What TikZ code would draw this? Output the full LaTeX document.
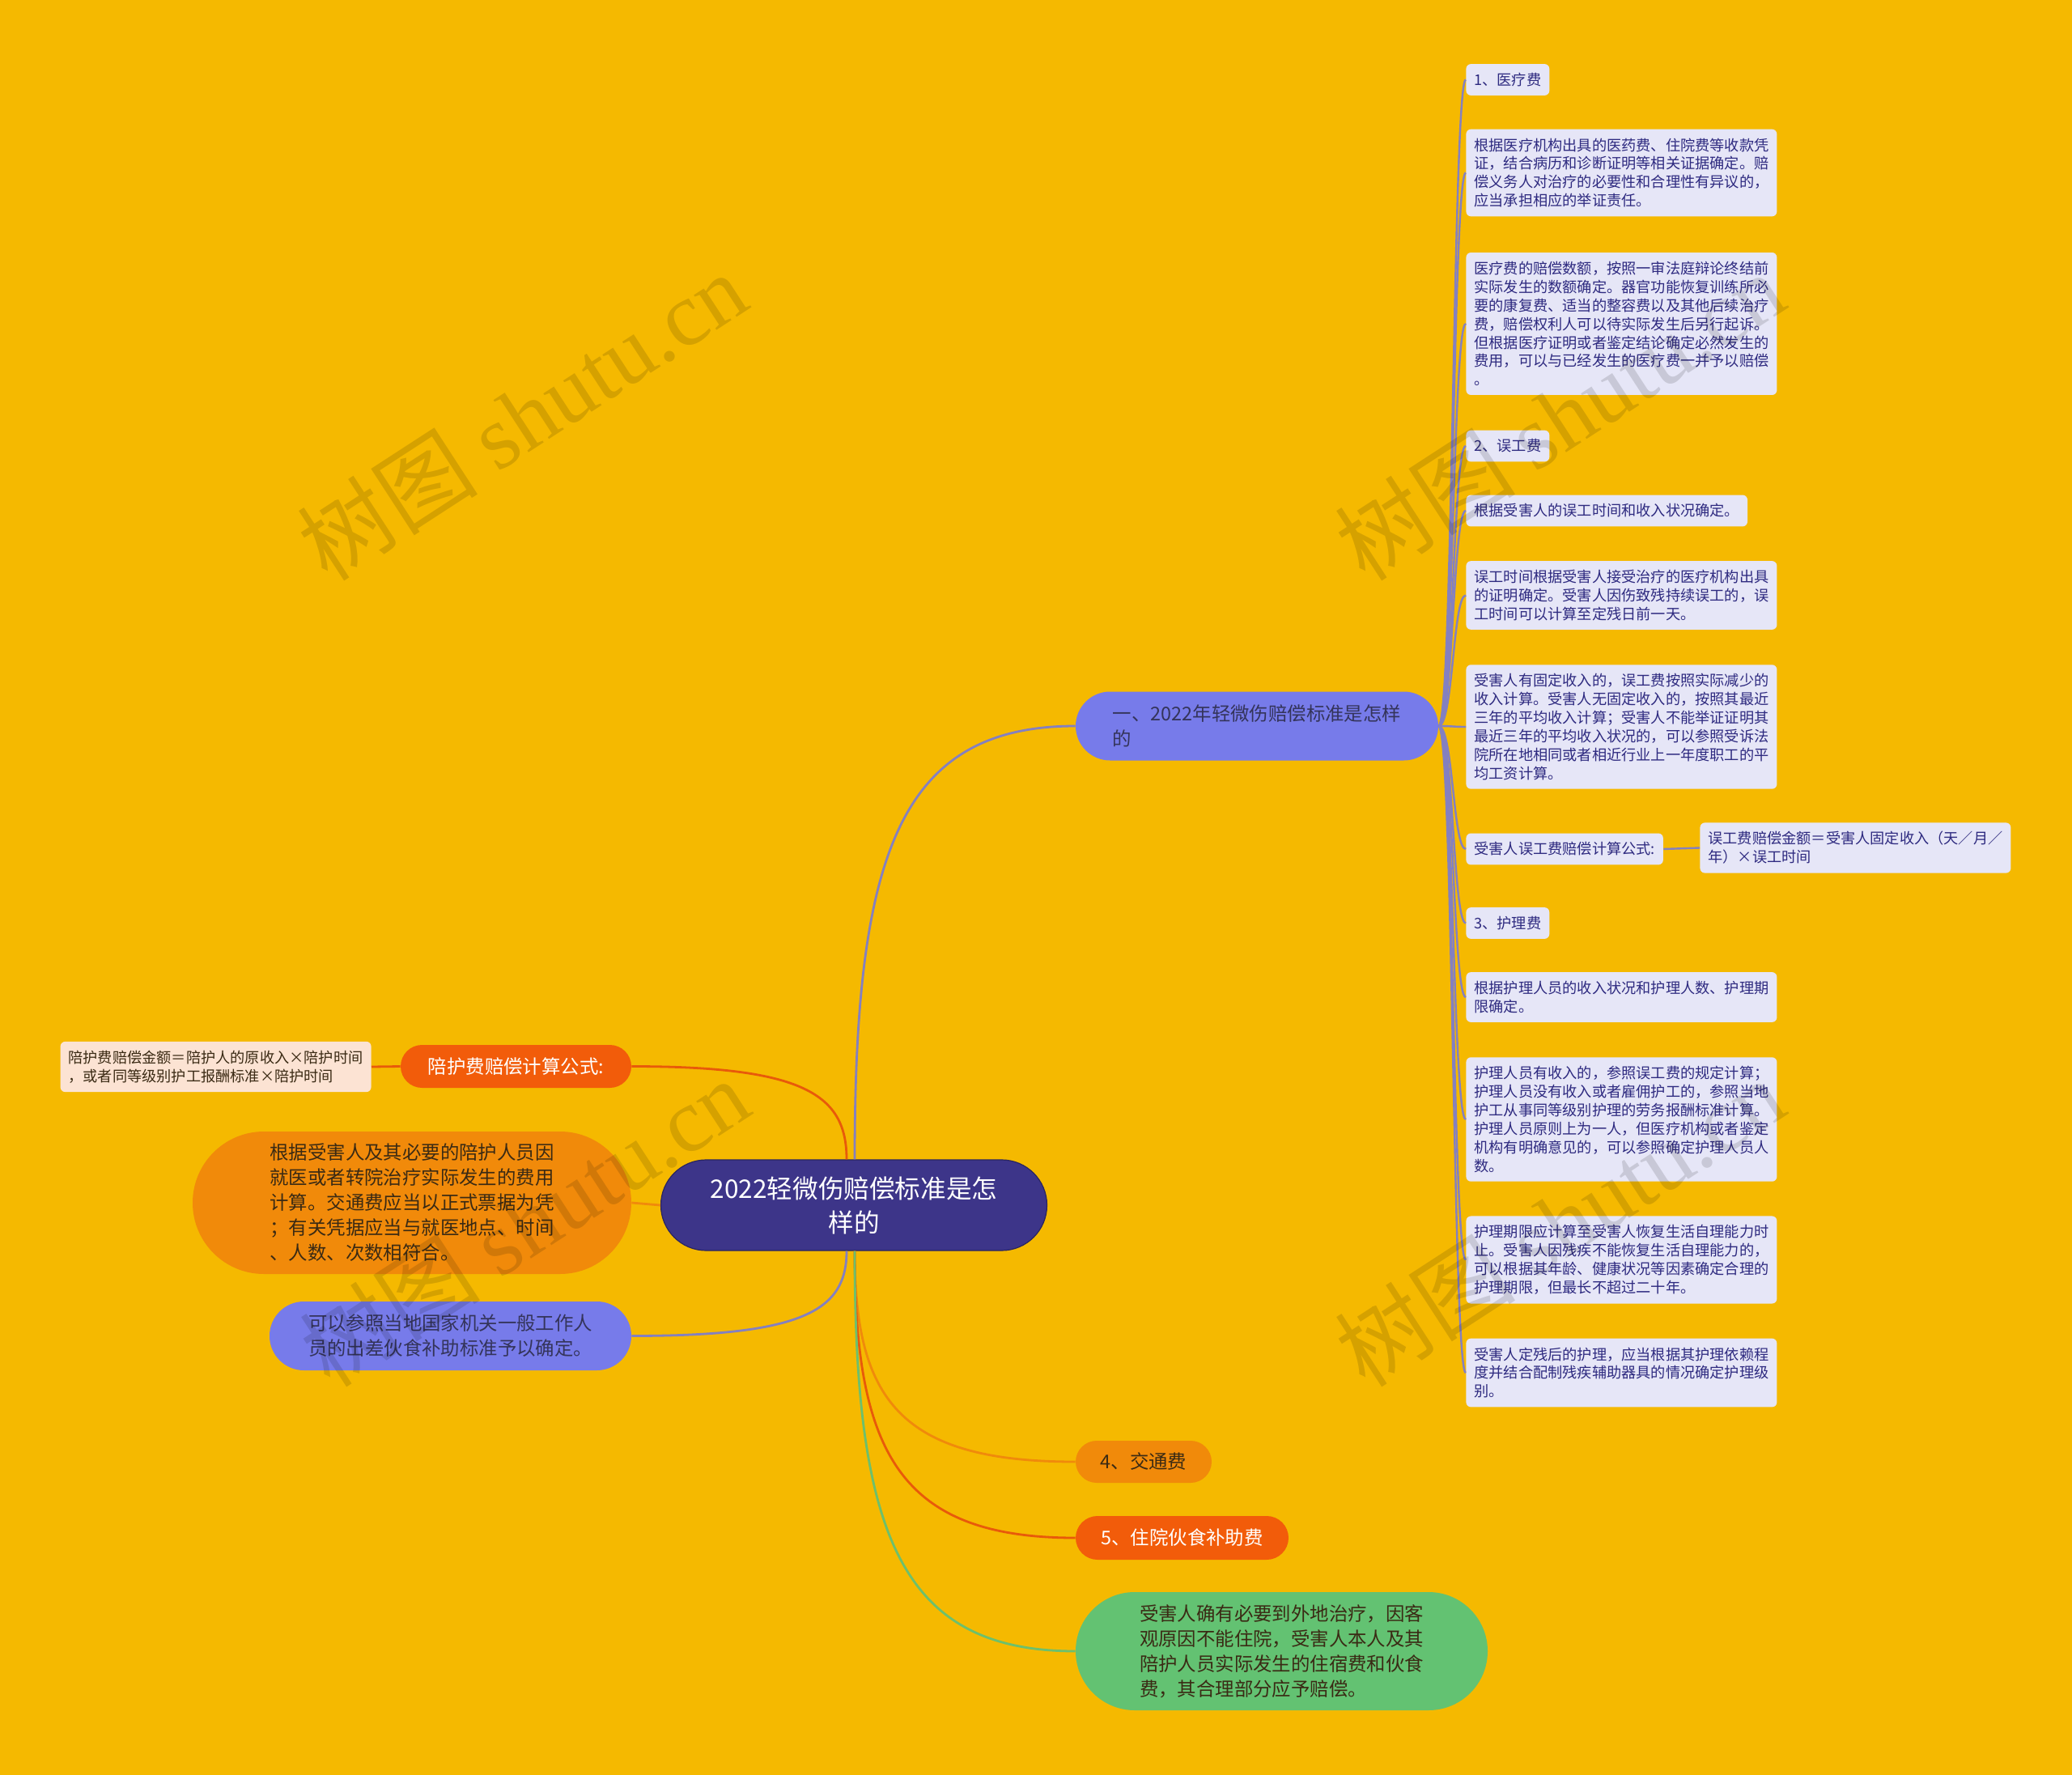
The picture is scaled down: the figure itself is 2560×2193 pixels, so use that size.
\documentclass[tikz,border=0pt]{standalone}
\usepackage{fontspec}
\setmainfont{Noto Sans CJK SC}
\newfontfamily\wmlatin{Liberation Serif}
\usetikzlibrary{calc}
\definecolor{bgc}{HTML}{F5B900}
\definecolor{cfill}{HTML}{3D3589}
\definecolor{cborder}{HTML}{2A2560}
\definecolor{peri}{HTML}{777BEA}
\definecolor{leafbg}{HTML}{E6E6F7}
\definecolor{leaftxt}{HTML}{2E2A80}
\definecolor{btxt}{HTML}{34345A}
\definecolor{orng}{HTML}{F18A0A}
\definecolor{ored}{HTML}{F25C0A}
\definecolor{grn}{HTML}{63C272}
\definecolor{peach}{HTML}{FCE3D3}
\definecolor{darktxt}{HTML}{3A2A14}
\definecolor{plinkc}{HTML}{8480C0}
\definecolor{rlinkc}{HTML}{E85A0A}
\definecolor{olinkc}{HTML}{F08A0B}
\definecolor{glinkc}{HTML}{6DC06C}
\tikzset{
  pill/.style={rectangle, inner sep=0pt, align=left, font=\fontsize{11.7}{15.5}\selectfont},
  leaf/.style={rectangle, rounded corners=3pt, fill=leafbg, text=leaftxt,
    font=\fontsize{9.1}{11.45}\selectfont, align=left, inner xsep=5pt, inner ysep=5.5pt, anchor=west},
  plink/.style={draw=plinkc, line width=1.4pt},
  rlink/.style={draw=rlinkc, line width=1.4pt},
  olink/.style={draw=olinkc, line width=1.4pt},
  glink/.style={draw=glinkc, line width=1.4pt},
  llink/.style={draw=plinkc, line width=1.2pt},
  wm/.style={text=black, text opacity=0.13, font=\fontsize{56}{60}\selectfont, inner sep=0pt},
}
\newcommand\mlink[3]{\draw[#1] (#2) .. controls ($(#2)!0.7!(#2|-#3)$) and ($(#3)!0.8!(#2|-#3)$) .. (#3);}
\newcommand\llinkto[1]{\draw[llink] (b1.east) .. controls +(18,0) and +(-16,0) .. (#1);}
\begin{document}
\begin{tikzpicture}[x=0.5pt,y=-0.5pt]
\fill[bgc] (0,0) rectangle (2560,2193);
\useasboundingbox (0,0) rectangle (2560,2193);

% central
\node[rectangle, fill=cfill, draw=cborder, line width=0.6pt, text=white, inner sep=0pt,
  font=\fontsize{15.8}{21}\selectfont, align=center, minimum width=238.5pt, minimum height=56pt,
  rounded corners=28pt] (c) at (1055,1489) {2022轻微伤赔偿标准是怎\\样的};

% main branches
\node[pill, fill=peri, text=btxt, minimum width=224pt, minimum height=42.5pt, rounded corners=21.25pt]
  (b1) at (1553,897) {一、2022年轻微伤赔偿标准是怎样\\的};
\node[pill, fill=ored, text=white, minimum width=142.5pt, minimum height=26.5pt, rounded corners=13.25pt]
  (pf) at (637.5,1317.5) {陪护费赔偿计算公式:};
\node[rectangle, rounded corners=3pt, fill=peach, text=darktxt, font=\fontsize{9.1}{11.45}\selectfont,
  align=left, inner xsep=5pt, inner ysep=5.5pt, anchor=east] (pfc) at (459,1318)
  {陪护费赔偿金额＝陪护人的原收入×陪护时间\\，或者同等级别护工报酬标准×陪护时间};
\node[pill, fill=orng, text=darktxt, minimum width=271pt, minimum height=88pt, rounded corners=44pt]
  (jt) at (509,1486) {根据受害人及其必要的陪护人员因\\就医或者转院治疗实际发生的费用\\计算。交通费应当以正式票据为凭\\；有关凭据应当与就医地点、时间\\、人数、次数相符合。};
\node[pill, fill=peri, text=btxt, minimum width=223.5pt, minimum height=42.5pt, rounded corners=21.25pt]
  (hs) at (556.5,1650.5) {可以参照当地国家机关一般工作人\\员的出差伙食补助标准予以确定。};
\node[pill, fill=orng, text=darktxt, minimum width=84pt, minimum height=26pt, rounded corners=13pt]
  (n4) at (1413,1806) {4、交通费};
\node[pill, fill=ored, text=white, minimum width=131.5pt, minimum height=27pt, rounded corners=13.5pt]
  (n5) at (1460.5,1900) {5、住院伙食补助费};
\node[pill, fill=grn, text=darktxt, minimum width=254.5pt, minimum height=73pt, rounded corners=36.5pt]
  (gr) at (1583.5,2040) {受害人确有必要到外地治疗，因客\\观原因不能住院，受害人本人及其\\陪护人员实际发生的住宿费和伙食\\费，其合理部分应予赔偿。};

% leaves
\node[leaf] (l1) at (1811,98.5) {1、医疗费};
\node[leaf] (l2) at (1811,213.5) {根据医疗机构出具的医药费、住院费等收款凭\\证，结合病历和诊断证明等相关证据确定。赔\\偿义务人对治疗的必要性和合理性有异议的，\\应当承担相应的举证责任。};
\node[leaf] (l3) at (1811,400) {医疗费的赔偿数额，按照一审法庭辩论终结前\\实际发生的数额确定。器官功能恢复训练所必\\要的康复费、适当的整容费以及其他后续治疗\\费，赔偿权利人可以待实际发生后另行起诉。\\但根据医疗证明或者鉴定结论确定必然发生的\\费用，可以与已经发生的医疗费一并予以赔偿\\。};
\node[leaf] (l4) at (1811,551) {2、误工费};
\node[leaf] (l5) at (1811,631) {根据受害人的误工时间和收入状况确定。};
\node[leaf] (l6) at (1811,735.5) {误工时间根据受害人接受治疗的医疗机构出具\\的证明确定。受害人因伤致残持续误工的，误\\工时间可以计算至定残日前一天。};
\node[leaf] (l7) at (1811,898) {受害人有固定收入的，误工费按照实际减少的\\收入计算。受害人无固定收入的，按照其最近\\三年的平均收入计算；受害人不能举证证明其\\最近三年的平均收入状况的，可以参照受诉法\\院所在地相同或者相近行业上一年度职工的平\\均工资计算。};
\node[leaf] (l8) at (1811,1049) {受害人误工费赔偿计算公式:};
\node[leaf] (l8c) at (2100,1047.5) {误工费赔偿金额＝受害人固定收入（天／月／\\年）×误工时间};
\node[leaf] (l9) at (1811,1140.5) {3、护理费};
\node[leaf] (l10) at (1811,1232) {根据护理人员的收入状况和护理人数、护理期\\限确定。};
\node[leaf] (l11) at (1811,1383) {护理人员有收入的，参照误工费的规定计算；\\护理人员没有收入或者雇佣护工的，参照当地\\护工从事同等级别护理的劳务报酬标准计算。\\护理人员原则上为一人，但医疗机构或者鉴定\\机构有明确意见的，可以参照确定护理人员人\\数。};
\node[leaf] (l12) at (1811,1556.5) {护理期限应计算至受害人恢复生活自理能力时\\止。受害人因残疾不能恢复生活自理能力的，\\可以根据其年龄、健康状况等因素确定合理的\\护理期限，但最长不超过二十年。};
\node[leaf] (l13) at (1811,1696) {受害人定残后的护理，应当根据其护理依赖程\\度并结合配制残疾辅助器具的情况确定护理级\\别。};

% anchor points on central node
\coordinate (cT) at ($(c.north)+(1,0)$);
\coordinate (cTl) at ($(c.north)+(-9,0)$);
\coordinate (cB) at ($(c.south)+(1,0)$);
\coordinate (cBl) at ($(c.south)+(-9,0)$);

% connectors
\mlink{plink}{cT}{b1.west}
\mlink{rlink}{cTl}{pf.east}
\draw[olink] (c.west) -- (jt.east);
\mlink{plink}{cBl}{hs.east}
\mlink{olink}{cB}{n4.west}
\mlink{rlink}{cB}{n5.west}
\mlink{glink}{cB}{gr.west}
\draw[rlink] (pf.west) -- (pfc.east);
\foreach \l in {l1,l2,l3,l4,l5,l6,l7,l8,l9,l10,l11,l12,l13} {\llinkto{\l.west}}
\draw[llink] (l8.east) -- (l8c.west);

% watermarks
\node[wm, rotate=33] (wm1) at (645,514) {树图 {\wmlatin shutu.cn}};
\node[wm, rotate=33] (wm2) at (1927,514) {树图 {\wmlatin shutu.cn}};
\node[wm, rotate=33] (wm3) at (648,1510) {树图 {\wmlatin shutu.cn}};
\node[wm, rotate=33] (wm4) at (1927,1510) {树图 {\wmlatin shutu.cn}};
\end{tikzpicture}
\end{document}
